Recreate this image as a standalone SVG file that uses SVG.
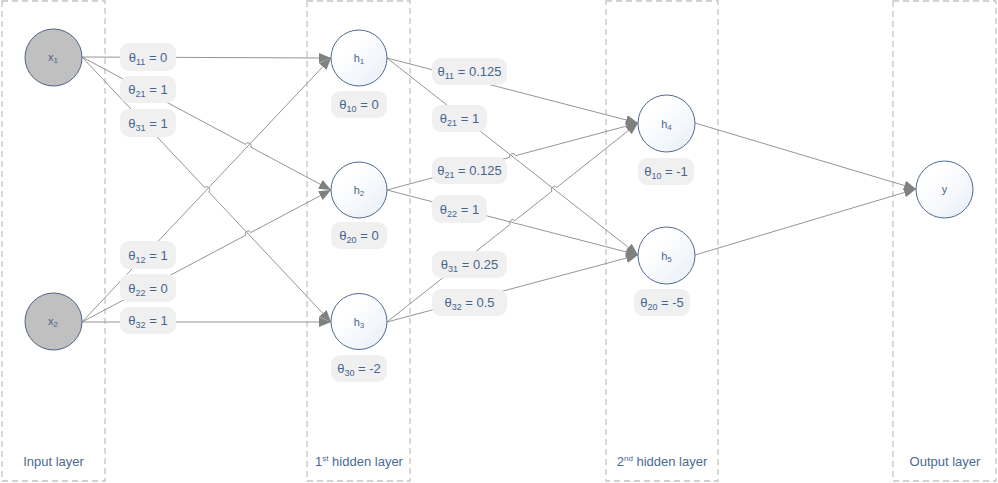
<svg xmlns="http://www.w3.org/2000/svg" width="998" height="483" viewBox="0 0 998 483">
<defs>
<style>
.layer{fill:none;stroke:#c4c4c4;stroke-width:1.3;stroke-dasharray:6 4}
.edge{fill:none;stroke:#959595;stroke-width:1}
.arr{marker-end:url(#ah)}
.in{fill:#c0c0c0;stroke:#4f6583;stroke-width:1}
.hid{fill:url(#hg);stroke:#4f6a8f;stroke-width:1}
.pill{fill:#f0f0f0;stroke:none}
.lbl{font-family:"Liberation Sans",Arial,sans-serif;font-size:13px;fill:#46658e;text-anchor:middle}
.nl{font-family:"Liberation Sans",Arial,sans-serif;font-size:11px;fill:#4a6585;text-anchor:middle}
.ll{font-family:"Liberation Sans",Arial,sans-serif;font-size:13px;fill:#4a6a94;text-anchor:middle}
</style>
<linearGradient id="hg" x1="0" y1="0" x2="1" y2="1">
<stop offset="0.3" stop-color="#ffffff"/>
<stop offset="1" stop-color="#e8eef7"/>
</linearGradient>
<marker id="ah" markerUnits="userSpaceOnUse" markerWidth="13" markerHeight="11" refX="12" refY="5" orient="auto">
<path d="M0,0 L12,5 L0,10 z" fill="#808080"/>
</marker>
</defs>
<rect width="998" height="483" fill="#ffffff"/>

<g id="layers">
<rect class="layer" x="2" y="1" width="103" height="480"/>
<rect class="layer" x="307" y="1" width="103" height="480"/>
<rect class="layer" x="606" y="1" width="112" height="480"/>
<rect class="layer" x="893" y="1" width="103" height="480"/>
<text class="ll" x="53.5" y="466">Input layer</text>
<text class="ll" x="359" y="466">1<tspan font-size="8" dy="-5">st</tspan><tspan dy="5"> hidden layer</tspan></text>
<text class="ll" x="662" y="466">2<tspan font-size="8" dy="-5">nd</tspan><tspan dy="5"> hidden layer</tspan></text>
<text class="ll" x="945" y="466">Output layer</text>
</g>

<g id="connectors">
<path class="edge arr" d="M82,57 L331,58"/>
<path class="edge arr" d="M82,322 L331,58"/>
<path class="edge arr" d="M82,57 L245.55,144.39 A3,3 0 0 1 250.85,147.21 L331,190"/>
<path class="edge arr" d="M82,57 L204.65,187.51 A3,3 0 0 1 208.75,191.89 L331,322"/>
<path class="edge arr" d="M82,322 L245.55,235.31 A3,3 0 0 1 250.85,232.50 L331,190"/>
<path class="edge arr" d="M82,322 L331,322"/>
<path class="edge arr" d="M387,58 L638,123"/>
<path class="edge arr" d="M387,58 L638,255"/>
<path class="edge arr" d="M387,190 L509.60,157.27 A3,3 0 0 1 515.40,155.73 L638,123"/>
<path class="edge arr" d="M387,190 L638,255"/>
<path class="edge arr" d="M387,322 L510.15,224.36 A3,3 0 0 1 514.85,220.64 L551.95,191.22 A3,3 0 0 1 556.65,187.50 L638,123"/>
<path class="edge arr" d="M387,322 L638,255"/>
<path class="edge arr" d="M695,123 L916,189"/>
<path class="edge arr" d="M695,255 L916,189"/>
</g>

<g id="weights">
<g id="w-x1-h1"><rect class="pill" x="120" y="43" width="56" height="28" rx="9"/><text class="lbl" x="148" y="61.5">θ<tspan font-size="9" dy="3">11</tspan><tspan dy="-3"> = 0</tspan></text></g>
<g id="w-x1-h2"><rect class="pill" x="120" y="76" width="56" height="27" rx="9"/><text class="lbl" x="148" y="94">θ<tspan font-size="9" dy="3">21</tspan><tspan dy="-3"> = 1</tspan></text></g>
<g id="w-x1-h3"><rect class="pill" x="120" y="109" width="56" height="28" rx="9"/><text class="lbl" x="148" y="127.5">θ<tspan font-size="9" dy="3">31</tspan><tspan dy="-3"> = 1</tspan></text></g>
<g id="w-x2-h1"><rect class="pill" x="120" y="241" width="56" height="28" rx="9"/><text class="lbl" x="148" y="259.5">θ<tspan font-size="9" dy="3">12</tspan><tspan dy="-3"> = 1</tspan></text></g>
<g id="w-x2-h2"><rect class="pill" x="120" y="274" width="56" height="28" rx="9"/><text class="lbl" x="148" y="292.5">θ<tspan font-size="9" dy="3">22</tspan><tspan dy="-3"> = 0</tspan></text></g>
<g id="w-x2-h3"><rect class="pill" x="120" y="307" width="56" height="27" rx="9"/><text class="lbl" x="148" y="325">θ<tspan font-size="9" dy="3">32</tspan><tspan dy="-3"> = 1</tspan></text></g>

<g id="w-h1-h4"><rect class="pill" x="432" y="58" width="75" height="27" rx="9"/><text class="lbl" x="469.5" y="76">θ<tspan font-size="9" dy="3">11</tspan><tspan dy="-3"> = 0.125</tspan></text></g>
<g id="w-h1-h5"><rect class="pill" x="432" y="105" width="55" height="27" rx="9"/><text class="lbl" x="459.5" y="123">θ<tspan font-size="9" dy="3">21</tspan><tspan dy="-3"> = 1</tspan></text></g>
<g id="w-h2-h4"><rect class="pill" x="432" y="157" width="75" height="27" rx="9"/><text class="lbl" x="469.5" y="175">θ<tspan font-size="9" dy="3">21</tspan><tspan dy="-3"> = 0.125</tspan></text></g>
<g id="w-h2-h5"><rect class="pill" x="432" y="195" width="55" height="28" rx="9"/><text class="lbl" x="459.5" y="213.5">θ<tspan font-size="9" dy="3">22</tspan><tspan dy="-3"> = 1</tspan></text></g>
<g id="w-h3-h4"><rect class="pill" x="432" y="251" width="75" height="27" rx="9"/><text class="lbl" x="469.5" y="269">θ<tspan font-size="9" dy="3">31</tspan><tspan dy="-3"> = 0.25</tspan></text></g>
<g id="w-h3-h5"><rect class="pill" x="432" y="289" width="75" height="27" rx="9"/><text class="lbl" x="469.5" y="307">θ<tspan font-size="9" dy="3">32</tspan><tspan dy="-3"> = 0.5</tspan></text></g>

<g id="b-h1"><rect class="pill" x="331" y="91" width="56" height="27" rx="9"/><text class="lbl" x="359" y="109">θ<tspan font-size="9" dy="3">10</tspan><tspan dy="-3"> = 0</tspan></text></g>
<g id="b-h2"><rect class="pill" x="331" y="222" width="56" height="27" rx="9"/><text class="lbl" x="359" y="240">θ<tspan font-size="9" dy="3">20</tspan><tspan dy="-3"> = 0</tspan></text></g>
<g id="b-h3"><rect class="pill" x="331" y="355" width="56" height="27" rx="9"/><text class="lbl" x="359" y="373">θ<tspan font-size="9" dy="3">30</tspan><tspan dy="-3"> = -2</tspan></text></g>
<g id="b-h4"><rect class="pill" x="638" y="158" width="56" height="27" rx="9"/><text class="lbl" x="666" y="176">θ<tspan font-size="9" dy="3">10</tspan><tspan dy="-3"> = -1</tspan></text></g>
<g id="b-h5"><rect class="pill" x="634" y="289" width="56" height="27" rx="9"/><text class="lbl" x="662" y="307">θ<tspan font-size="9" dy="3">20</tspan><tspan dy="-3"> = -5</tspan></text></g>
</g>

<g id="node-x1"><circle class="in" cx="53.5" cy="57.5" r="28.5"/><text class="nl" x="53" y="61">x<tspan font-size="8" dy="2">1</tspan></text></g>
<g id="node-x2"><circle class="in" cx="53.5" cy="321.5" r="28.5"/><text class="nl" x="53" y="325">x<tspan font-size="8" dy="2">2</tspan></text></g>
<g id="node-h1"><circle class="hid" cx="359" cy="58" r="28"/><text class="nl" x="359" y="62">h<tspan font-size="8" dy="2">1</tspan></text></g>
<g id="node-h2"><circle class="hid" cx="359" cy="190" r="28"/><text class="nl" x="359" y="194">h<tspan font-size="8" dy="2">2</tspan></text></g>
<g id="node-h3"><circle class="hid" cx="359" cy="321.5" r="28"/><text class="nl" x="359" y="325.5">h<tspan font-size="8" dy="2">3</tspan></text></g>
<g id="node-h4"><circle class="hid" cx="666.5" cy="123.5" r="28.5"/><text class="nl" x="666.5" y="127.5">h<tspan font-size="8" dy="2">4</tspan></text></g>
<g id="node-h5"><circle class="hid" cx="666.5" cy="255.5" r="28.5"/><text class="nl" x="666.5" y="259.5">h<tspan font-size="8" dy="2">5</tspan></text></g>
<g id="node-y"><circle class="hid" cx="944.5" cy="189.5" r="28.5"/><text class="nl" x="944.5" y="193">y</text></g>
</svg>
